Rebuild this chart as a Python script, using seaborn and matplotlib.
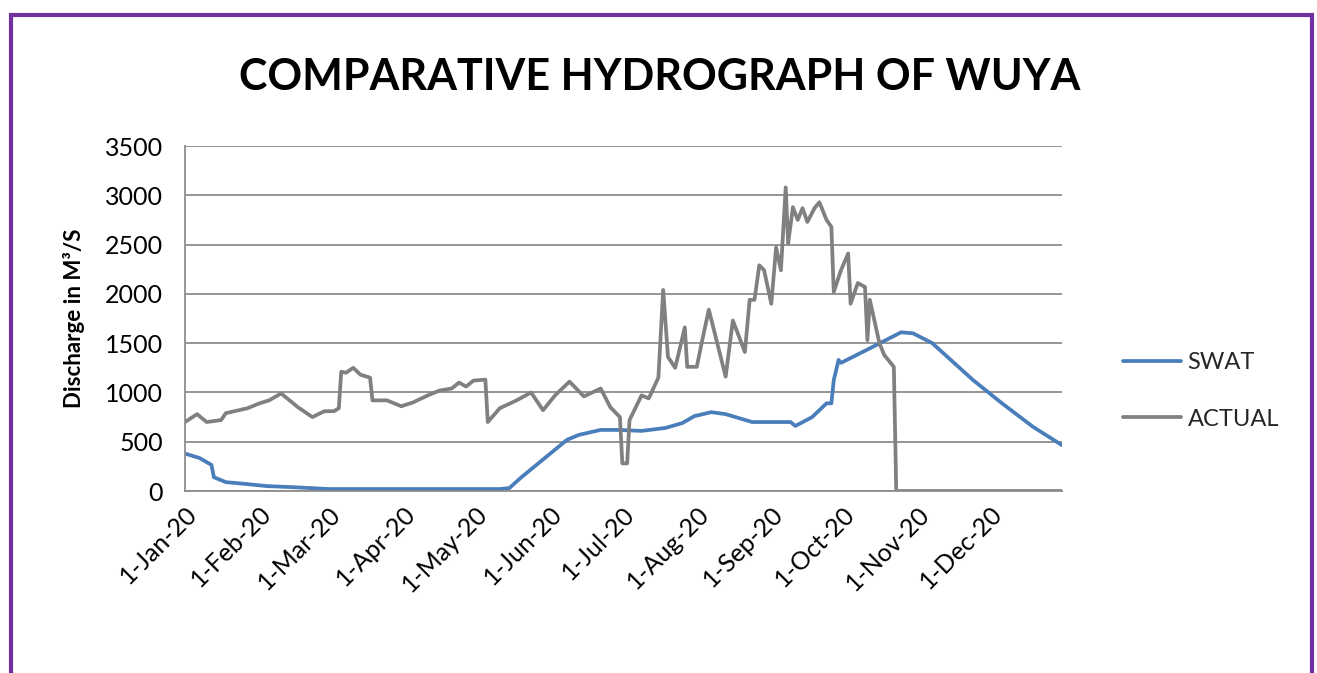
import pandas as pd
import matplotlib
matplotlib.use('Agg')
import matplotlib.pyplot as plt
import matplotlib.dates as mdates
from matplotlib.patches import Rectangle
import seaborn as sns

# SWAT simulated discharge (day of 2020, m3/s)
swat_day = [0, 6, 11, 12, 17, 26, 34, 44, 60, 131, 135, 140, 159, 164, 173, 180, 190,
            200, 207, 212, 219, 225, 236, 252, 254, 261, 267, 269, 270, 272, 273, 286,
            294, 298, 303, 311, 328, 340, 353, 365]
swat_q = [380, 335, 265, 140, 90, 70, 50, 40, 20, 20, 30, 140, 520, 570, 620, 620, 610,
          640, 690, 760, 800, 780, 700, 700, 660, 750, 890, 890, 1125, 1330, 1300, 1460,
          1560, 1610, 1600, 1500, 1125, 890, 650, 465]

# observed discharge
actual_day = [0, 5, 9, 15, 17, 26, 31, 35, 40, 47, 53, 58, 62, 64, 65, 67, 70, 73, 77, 78,
              84, 90, 95, 101, 106, 111, 114, 117, 120, 125, 126, 131, 138, 144, 149, 154,
              160, 166, 173, 177, 181, 182, 184, 185, 190, 193, 197, 199, 201, 204, 208,
              209, 213, 215, 218, 225, 228, 233, 235, 237, 239, 241, 244, 246, 248, 250,
              251, 253, 255, 257, 259, 262, 264, 267, 269, 270, 273, 276, 277, 280, 283,
              284, 285, 289, 291, 295, 296, 365]
actual_q = [700, 780, 700, 720, 790, 840, 890, 920, 990, 850, 750, 810, 810, 840, 1210,
            1200, 1250, 1180, 1150, 920, 920, 860, 900, 970, 1020, 1040, 1100, 1060, 1120,
            1130, 700, 840, 920, 1000, 820, 970, 1110, 960, 1040, 850, 750, 280, 280, 720,
            970, 940, 1150, 2040, 1360, 1250, 1660, 1260, 1260, 1500, 1840, 1160, 1730,
            1410, 1940, 1940, 2290, 2240, 1900, 2470, 2240, 3080, 2510, 2880, 2750, 2870,
            2730, 2870, 2930, 2750, 2680, 2020, 2240, 2410, 1900, 2110, 2070, 1530, 1940,
            1500, 1380, 1260, 0, 0]

start = pd.Timestamp('2020-01-01')
df = pd.concat([
    pd.DataFrame({'Date': start + pd.to_timedelta(swat_day, unit='D'), 'Q': swat_q, 'Series': 'SWAT'}),
    pd.DataFrame({'Date': start + pd.to_timedelta(actual_day, unit='D'), 'Q': actual_q, 'Series': 'ACTUAL'}),
], ignore_index=True)

sns.set_style('white')
plt.rcParams['font.family'] = ['Lato', 'DejaVu Sans']

fig = plt.figure(figsize=(13.17, 6.73), dpi=100)
ax = fig.add_axes([0.1405, 0.2704, 0.6659, 0.5126])

sns.lineplot(data=df, x='Date', y='Q', hue='Series', palette={'SWAT': '#4A7EBB', 'ACTUAL': '#808080'},
             linewidth=2.7, ax=ax, sort=False, estimator=None)

ax.set_ylim(0, 3500)
ax.set_yticks(range(0, 3501, 500))
ax.set_xlim(start, pd.Timestamp('2020-12-31'))
ax.xaxis.set_major_locator(mdates.MonthLocator())
ax.xaxis.set_major_formatter(mdates.DateFormatter('%-d-%b-%y'))
ax.grid(axis='y', color='#8c8c8c', linewidth=1.3)
ax.set_axisbelow(True)
for s in ['top', 'right']:
    ax.spines[s].set_visible(False)
for s in ['left', 'bottom']:
    ax.spines[s].set_color('#8c8c8c')
    ax.spines[s].set_linewidth(1.3)
ax.tick_params(axis='y', labelsize=18, length=0, pad=16, labelcolor='black')
ax.tick_params(axis='x', labelsize=18, length=0, pad=8, labelcolor='black')
plt.setp(ax.get_xticklabels(), rotation=45, ha='right', rotation_mode='anchor')

ax.set_xlabel('')
ax.set_ylabel('Discharge in M³/S', fontsize=16, fontweight='bold', labelpad=14, color='black')
fig.text(0.501, 0.886, 'COMPARATIVE HYDROGRAPH OF WUYA', ha='center', va='center',
         fontsize=31, fontweight='bold', color='black')

ax.legend(loc='center left', bbox_to_anchor=(1.045, 0.29), frameon=False, fontsize=17,
          handlelength=2.45, handletextpad=0.3, labelspacing=1.5)

fig.add_artist(Rectangle((0.0085, -0.02), 0.988, 0.998, transform=fig.transFigure,
                         fill=False, edgecolor='#7030A0', linewidth=3, clip_on=False))

fig.savefig('out.png', dpi=100)
